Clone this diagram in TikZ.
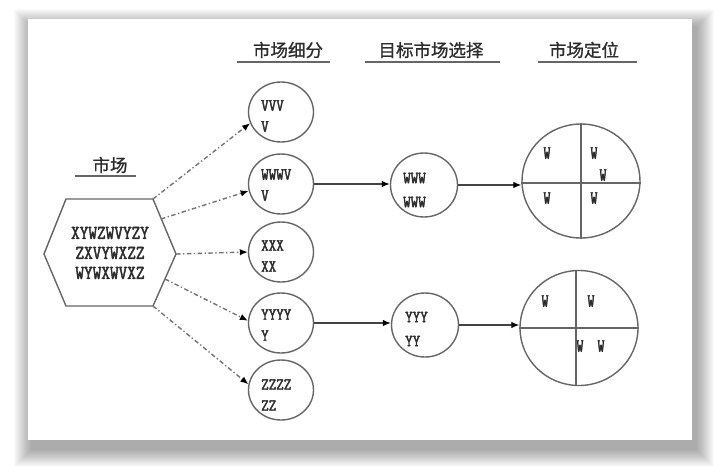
\documentclass[tikz,border=0pt]{standalone}
\usepackage{fontspec}
\setmainfont{Liberation Serif}
\newfontfamily\cjk{Noto Sans CJK SC}[FakeBold=1.0]
\newfontfamily\mono{Latin Modern Mono}[FakeStretch=0.86,FakeBold=2.3]
\newfontfamily\monoq{Latin Modern Mono}[FakeStretch=0.72,FakeBold=2.3]
\usetikzlibrary{shapes.geometric,arrows.meta}
\definecolor{linegray}{HTML}{666666}
\definecolor{txtgray}{HTML}{2c2c2c}
\definecolor{arrgray}{HTML}{444444}
\begin{document}
\begin{tikzpicture}[x=1pt,y=-1pt,
  segc/.style={ellipse,draw=linegray,line width=1.4pt,minimum width=65pt,minimum height=60pt,inner sep=0pt},
  tgtc/.style={ellipse,draw=linegray,line width=1.4pt,minimum width=67pt,minimum height=64pt,inner sep=0pt},
  posc/.style={ellipse,draw=linegray,line width=1.4pt,minimum width=118pt,minimum height=114pt,inner sep=0pt},
  segt/.style={anchor=west,align=left,inner sep=0pt,text=txtgray,font=\mono\fontsize{17}{21}\selectfont},
  tgtt/.style={anchor=west,align=left,inner sep=0pt,text=txtgray,font=\mono\fontsize{17}{24}\selectfont},
  qt/.style={inner sep=0pt,text=txtgray,font=\monoq\fontsize{18.5}{20}\selectfont},
  head/.style={inner sep=0pt,text=txtgray,font=\cjk\fontsize{17.5}{20}\selectfont},
  uline/.style={draw=linegray,line width=1.8pt},
  dotarr/.style={draw=arrgray!75,line width=1.4pt,dash pattern=on 4.5pt off 2.5pt on 1.3pt off 2.5pt,-{Latex[length=8pt,width=6.5pt,black]}},
  solarr/.style={draw=arrgray,line width=1.3pt,-{Latex[length=8pt,width=6.5pt,black]}}
]
\fill[white] (0,0) rectangle (720,474);
\useasboundingbox (0,0) rectangle (720,474);
% shadow
\foreach \k in {1,...,18}{
  \fill[black,opacity=0.019] (32-\k,27-\k) rectangle (696+\k,449+\k);
}
\fill[white] (28,19) rectangle (692,440);

% headers
\node[head] (hm) at (110,165) {市场};
\draw[uline] (75,176) -- (136,176);
\node[head] (hs) at (288,50) {市场细分};
\draw[uline] (237,62) -- (330,62);
\node[head] (ht) at (431,50) {目标市场选择};
\draw[uline] (365,62) -- (500,62);
\node[head] (hp) at (584,50) {市场定位};
\draw[uline] (538,62) -- (637,62);

% hexagon
\coordinate (hL) at (44,254);
\coordinate (hTL) at (66,199);
\coordinate (hTR) at (153,199);
\coordinate (hR) at (176,254);
\coordinate (hBR) at (153,306);
\coordinate (hBL) at (66,306);
\draw[linegray,line width=1.4pt] (hL) -- (hTL) -- (hTR) -- (hR) -- (hBR) -- (hBL) -- cycle;
\node[inner sep=0pt,align=center,text=txtgray,font=\mono\fontsize{19.5}{20}\selectfont] (mk) at (110,253) {XYWZWVYZY\\ZXVYWXZZ\\WYWXWVXZ};
\coordinate (s2) at (161,219);
\coordinate (s4) at (165,279);

% segmentation circles
\node[segc] (c1) at (281,112) {};
\node[segc] (c2) at (281,184) {};
\node[segc] (c3) at (281,252) {};
\node[segc] (c4) at (281,323) {};
\node[segc] (c5) at (281,390) {};
\node[segt] (t1) at (261,116) {VVV\\V};
\node[segt] (t2) at (261,185) {WWWV\\V};
\node[segt] (t3) at (261,256) {XXX\\XX};
\node[segt] (t4) at (261,325) {YYYY\\Y};
\node[segt] (t5) at (261,395) {ZZZZ\\ZZ};

% target circles
\node[tgtc] (m1) at (424,185) {};
\node[tgtc] (m2) at (425,325) {};
\node[tgtt] (u1) at (403,190) {WWW\\WWW};
\node[tgtt] (u2) at (405,329) {YYY\\YY};

% positioning circles
\node[posc] (q1) at (581,181) {};
\draw[linegray,line width=1.4pt] (q1.north) -- (q1.south);
\draw[linegray,line width=1.4pt] ([yshift=-2pt]q1.west) -- ([yshift=-2pt]q1.east);
\node[posc,minimum height=115pt] (q2) at (579,328) {};
\draw[linegray,line width=1.4pt] ([xshift=-3pt]q2.north) -- ([xshift=-3pt]q2.south);
\draw[linegray,line width=1.4pt] (q2.west) -- (q2.east);
\node[qt] (a1) at (547,153) {W};
\node[qt] (a2) at (594,153) {W};
\node[qt] (a3) at (603,175) {W};
\node[qt] (a4) at (547,198) {W};
\node[qt] (a5) at (594,198) {W};
\node[qt] (b1) at (545,301) {W};
\node[qt] (b2) at (591,301) {W};
\node[qt] (b3) at (580,346) {W};
\node[qt] (b4) at (601,346) {W};

% dotted arrows
\draw[dotarr] (hTR) -- (c1.200);
\draw[dotarr] (s2) -- (c2.192);
\draw[dotarr] (hR) -- (c3.west);
\draw[dotarr] (s4) -- (c4.176);
\draw[dotarr] (hBR) -- (c5.170);

% solid arrows
\draw[solarr] (c2.east) -- (c2.east -| m1.west);
\draw[solarr] (m1.east) -- (m1.east -| q1.west);
\draw[solarr] (c4.east) -- (c4.east -| m2.west);
\draw[solarr] (m2.east) -- (m2.east -| q2.west);
\end{tikzpicture}
\end{document}
